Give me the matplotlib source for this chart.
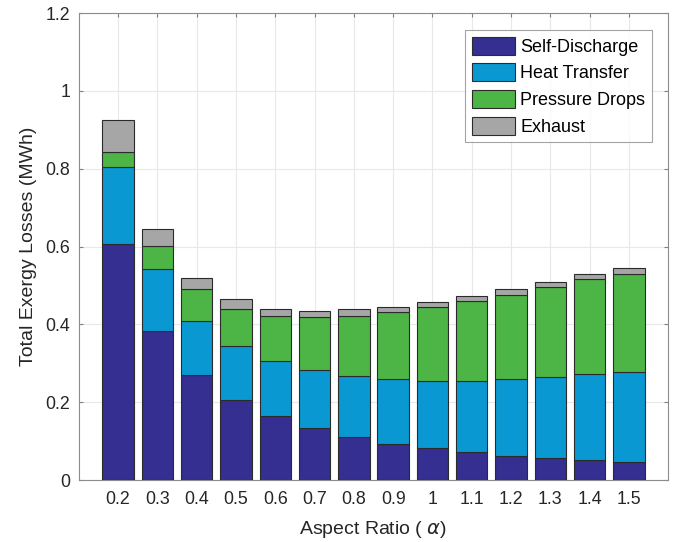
import numpy as np
from matplotlib import pyplot as plt

plt.rcParams['font.family'] = ['Liberation Sans', 'DejaVu Sans']

# Exergy loss breakdown per aspect ratio (MWh)
ratios = ['0.2', '0.3', '0.4', '0.5', '0.6', '0.7', '0.8', '0.9', '1',
          '1.1', '1.2', '1.3', '1.4', '1.5']
self_discharge = [0.607, 0.383, 0.270, 0.206, 0.164, 0.134, 0.112, 0.094,
                  0.083, 0.073, 0.063, 0.056, 0.051, 0.046]
heat_transfer = [0.198, 0.159, 0.140, 0.138, 0.141, 0.148, 0.155, 0.166,
                 0.173, 0.183, 0.197, 0.209, 0.222, 0.232]
pressure_drops = [0.037, 0.059, 0.080, 0.096, 0.118, 0.136, 0.155, 0.171,
                  0.189, 0.204, 0.216, 0.230, 0.243, 0.252]
exhaust = [0.083, 0.043, 0.030, 0.025, 0.017, 0.016, 0.017, 0.015,
           0.013, 0.014, 0.015, 0.013, 0.014, 0.014]

series = [self_discharge, heat_transfer, pressure_drops, exhaust]
names = ['Self-Discharge', 'Heat Transfer', 'Pressure Drops', 'Exhaust']
colors = ['#352F91', '#0A98D2', '#4DB446', '#A6A6A6']

fig = plt.figure(figsize=(6.73, 5.42), dpi=100)
ax = fig.add_axes([0.117, 0.114, 0.876, 0.862])

x = np.arange(1, len(ratios) + 1)
bottom = np.zeros(len(ratios))
for vals, name, col in zip(series, names, colors):
    ax.bar(x, vals, 0.8, bottom=bottom, color=col, edgecolor='#2b2b2b',
           linewidth=0.8, label=name, zorder=3)
    bottom += np.array(vals)

ax.set_xlim(0, len(ratios) + 1)
ax.set_ylim(0, 1.2)
ax.set_xticks(x)
ax.set_xticklabels(ratios)
ax.set_yticks(np.arange(0, 1.21, 0.2))
ax.set_yticklabels(['0', '0.2', '0.4', '0.6', '0.8', '1', '1.2'])
ax.grid(True, color='#e8e8e8', linewidth=0.8, zorder=0)
ax.tick_params(direction='in', length=3, colors='#808080', labelcolor='#262626',
               labelsize=12.8, right=True, top=True)
ax.tick_params(axis='x', pad=8)
ax.tick_params(axis='y', pad=6)
for s in ax.spines.values():
    s.set_color('#8c8c8c')
    s.set_linewidth(0.8)

ax.set_xlabel(r'Aspect Ratio ( $\alpha$)', fontsize=14, color='#262626',
              labelpad=8)
ax.set_ylabel('Total Exergy Losses (MWh)', fontsize=14, color='#262626',
              labelpad=6)

leg = ax.legend(loc='upper right', fontsize=13, frameon=True, fancybox=False,
                edgecolor='#8c8c8c', handlelength=2.4, handleheight=1.15,
                handletextpad=0.3, labelspacing=0.42, borderpad=0.35,
                borderaxespad=0, bbox_to_anchor=(0.972, 0.963))
leg.get_frame().set_linewidth(0.8)

plt.savefig('out.png', dpi=100)
